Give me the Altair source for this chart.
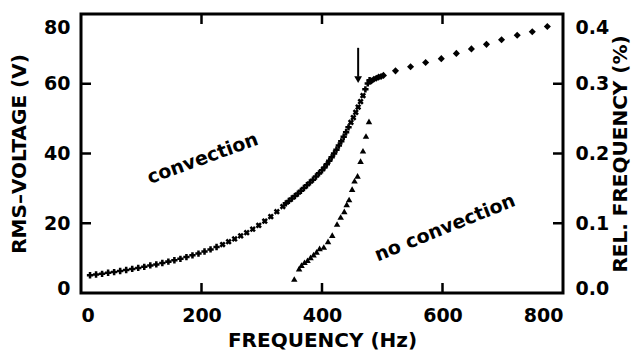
import altair as alt
import pandas as pd

# ---------------- data ----------------
# RMS voltage threshold, run 1 ("+" markers)
plus1_f = [15, 25, 35, 45, 55, 65, 75, 85, 95, 105, 115, 125, 135, 145, 155,
           165, 175, 185, 195, 205, 215, 225]
plus1_v = [5.1, 5.3, 5.5, 5.8, 6.0, 6.3, 6.6, 6.9, 7.2, 7.5, 7.9, 8.2, 8.6, 9.0,
           9.4, 9.8, 10.3, 10.8, 11.3, 11.9, 12.5, 13.2]
# run 2 ("x" markers)
x1_f = [235, 245, 255, 265, 275, 285, 295, 305, 315, 325, 335]
x1_v = [13.9, 14.7, 15.5, 16.4, 17.3, 18.3, 19.4, 20.6, 21.9, 23.3, 24.8]
# run 3 ("+" markers)
plus2_f = [340, 345, 350, 355, 360, 365, 370, 375, 380, 385, 390, 395, 400,
           404, 408, 412, 416, 420, 424, 428, 432, 436, 440, 444]
plus2_v = [25.7, 26.4, 27.1, 27.8, 28.5, 29.3, 30.1, 30.9, 31.7, 32.5, 33.4,
           34.3, 35.2, 36.0, 36.9, 37.9, 38.9, 40.0, 41.1, 42.3, 43.5, 44.8,
           46.1, 47.5]
# run 4 ("x" markers)
x2_f = [448, 452, 456, 460, 464, 468]
x2_v = [48.9, 50.3, 51.8, 53.3, 54.9, 56.6]
# run 5 ("+" markers)
plus3_f = [472, 476, 479]
plus3_v = [58.4, 60.1, 61.0]

# diamonds (above threshold)
dia_f = [482, 486, 490, 494, 498, 502, 522, 547, 572, 598, 623, 648, 673, 698,
         724, 749, 774]
dia_v = [60.8, 61.3, 61.6, 61.9, 62.1, 62.4, 63.7, 64.9, 66.1, 67.2, 68.7,
         70.0, 71.3, 72.6, 73.9, 74.9, 76.4]

# triangles: relative frequency shift (%)
tri_f = [354, 362, 366, 371, 376, 381, 386, 391, 396, 403, 410, 417, 425, 431,
         437, 441, 445, 450, 454, 459, 464, 468, 473, 478]
tri_r = [0.020, 0.035, 0.040, 0.044, 0.047, 0.051, 0.055, 0.059, 0.064, 0.066,
         0.074, 0.083, 0.099, 0.109, 0.117, 0.127, 0.134, 0.149, 0.161, 0.168,
         0.189, 0.204, 0.225, 0.246]

# arrow marking the threshold
arrow_f = [460]
arrow_top = [70.3]
arrow_bottom = [62.0]
arrow_head = [61.2]

# annotations
note1_f, note1_v, note1_text = [202], [38.6], ["convection"]
note2_f, note2_v, note2_text = [604], [18.7], ["no convection"]

# axis ticks
x_ticks = [0, 200, 400, 600, 800]
x_inner_ticks = [200, 400, 600]
v_ticks = [0, 20, 40, 60, 80]
v_inner_ticks = [20, 40, 60]
r_ticks = [0.0, 0.1, 0.2, 0.3, 0.4]

# ---------------- chart ----------------
W, H = 482, 279
FONT = "DejaVu Sans"

x_scale = alt.Scale(domain=[0, 800], nice=False, zero=False)
v_scale = alt.Scale(domain=[0, 80], nice=False, zero=False)
r_scale = alt.Scale(domain=[0, 0.4], nice=False, zero=False)

x_axis = alt.Axis(values=x_ticks, labelFlush=True, labelPadding=13,
                  title="FREQUENCY (Hz)", titlePadding=5)
x_enc = alt.X("f:Q", scale=x_scale, axis=x_axis)


def yv(field="v"):
    return alt.Y(f"{field}:Q", scale=v_scale, axis=None)


def df(**cols):
    return pd.DataFrame(cols)


left_axis = alt.Axis(
    values=v_ticks, orient="left", labelPadding=11, format="d",
    labelOffset={"condition": [{"test": "datum.value == 80", "value": 13},
                               {"test": "datum.value == 0", "value": -5}],
                 "value": 0},
    title="RMS–VOLTAGE (V)", titlePadding=14,
)
right_axis = alt.Axis(
    values=r_ticks, orient="right", labelPadding=12, format=".1f",
    labelOffset={"condition": [{"test": "datum.value > 0.39", "value": 13},
                               {"test": "datum.value < 0.01", "value": -5}],
                 "value": 0},
    title="REL. FREQUENCY (%)", titleAngle=270, titlePadding=22,
)

plus_df = pd.concat([df(f=plus1_f, v=plus1_v), df(f=plus2_f, v=plus2_v),
                     df(f=plus3_f, v=plus3_v)])
xs_df = pd.concat([df(f=x1_f, v=x1_v), df(f=x2_f, v=x2_v)])

plus_layer = alt.Chart(plus_df).mark_point(
    shape="cross", filled=True, size=40, color="black", opacity=1
).encode(x=x_enc, y=alt.Y("v:Q", scale=v_scale, axis=left_axis))

xs_layer = alt.Chart(xs_df).mark_point(
    shape="cross", angle=45, filled=True, size=40, color="black", opacity=1
).encode(x=x_enc, y=yv())

dia_layer = alt.Chart(df(f=dia_f, v=dia_v)).mark_point(
    shape="diamond", filled=True, size=50, color="black", opacity=1
).encode(x=x_enc, y=yv())

tri_layer = alt.Chart(df(f=tri_f, r=tri_r)).mark_point(
    shape="triangle-up", filled=True, size=42, color="black", opacity=1
).encode(x=x_enc, y=alt.Y("r:Q", scale=r_scale, axis=right_axis))

arrow_rule = alt.Chart(df(f=arrow_f, v=arrow_top, v2=arrow_bottom)).mark_rule(
    color="black", strokeWidth=2
).encode(x=x_enc, y=yv(), y2="v2:Q")

arrow_tip = alt.Chart(df(f=arrow_f, v=arrow_head)).mark_point(
    shape="triangle-down", filled=True, size=60, color="black", opacity=1
).encode(x=x_enc, y=yv())

note1 = alt.Chart(df(f=note1_f, v=note1_v, t=note1_text)).mark_text(
    font=FONT, fontWeight="bold", fontSize=19, angle=340, color="black",
    align="center", baseline="middle"
).encode(x=x_enc, y=yv(), text="t:N")

note2 = alt.Chart(df(f=note2_f, v=note2_v, t=note2_text)).mark_text(
    font=FONT, fontWeight="bold", fontSize=19, angle=338, color="black",
    align="center", baseline="middle"
).encode(x=x_enc, y=yv(), text="t:N")

tick_x_df = df(f=x_inner_ticks)
tick_bottom = alt.Chart(tick_x_df).mark_rule(color="black", strokeWidth=2.5).encode(
    x=x_enc, y=alt.value(H), y2=alt.value(H - 10))
tick_top = alt.Chart(tick_x_df).mark_rule(color="black", strokeWidth=2.5).encode(
    x=x_enc, y=alt.value(0), y2=alt.value(10))

tick_v_df = df(v=v_inner_ticks)
tick_left = alt.Chart(tick_v_df).mark_rule(color="black", strokeWidth=2.5).encode(
    y=yv(), x=alt.value(0), x2=alt.value(10))
tick_right = alt.Chart(tick_v_df).mark_rule(color="black", strokeWidth=2.5).encode(
    y=yv(), x=alt.value(W - 10), x2=alt.value(W))

chart = alt.layer(
    plus_layer, xs_layer, dia_layer, arrow_rule, arrow_tip, note1, note2,
    tick_bottom, tick_top, tick_left, tick_right, tri_layer
).resolve_scale(y="independent").properties(
    width=W, height=H,
    autosize=alt.AutoSizeParams(type="none"),
    padding={"left": 73, "top": 6, "right": 70, "bottom": 61},
    background="white",
).configure_view(
    stroke="black", strokeWidth=3
).configure_axis(
    labelFont=FONT, labelFontWeight="bold", labelFontSize=19, labelColor="black",
    titleFont=FONT, titleFontWeight="bold", titleFontSize=20, titleColor="black",
    grid=False, ticks=False, domain=False,
)

chart.save("out.html", embed_options={"renderer": "svg", "actions": False})
